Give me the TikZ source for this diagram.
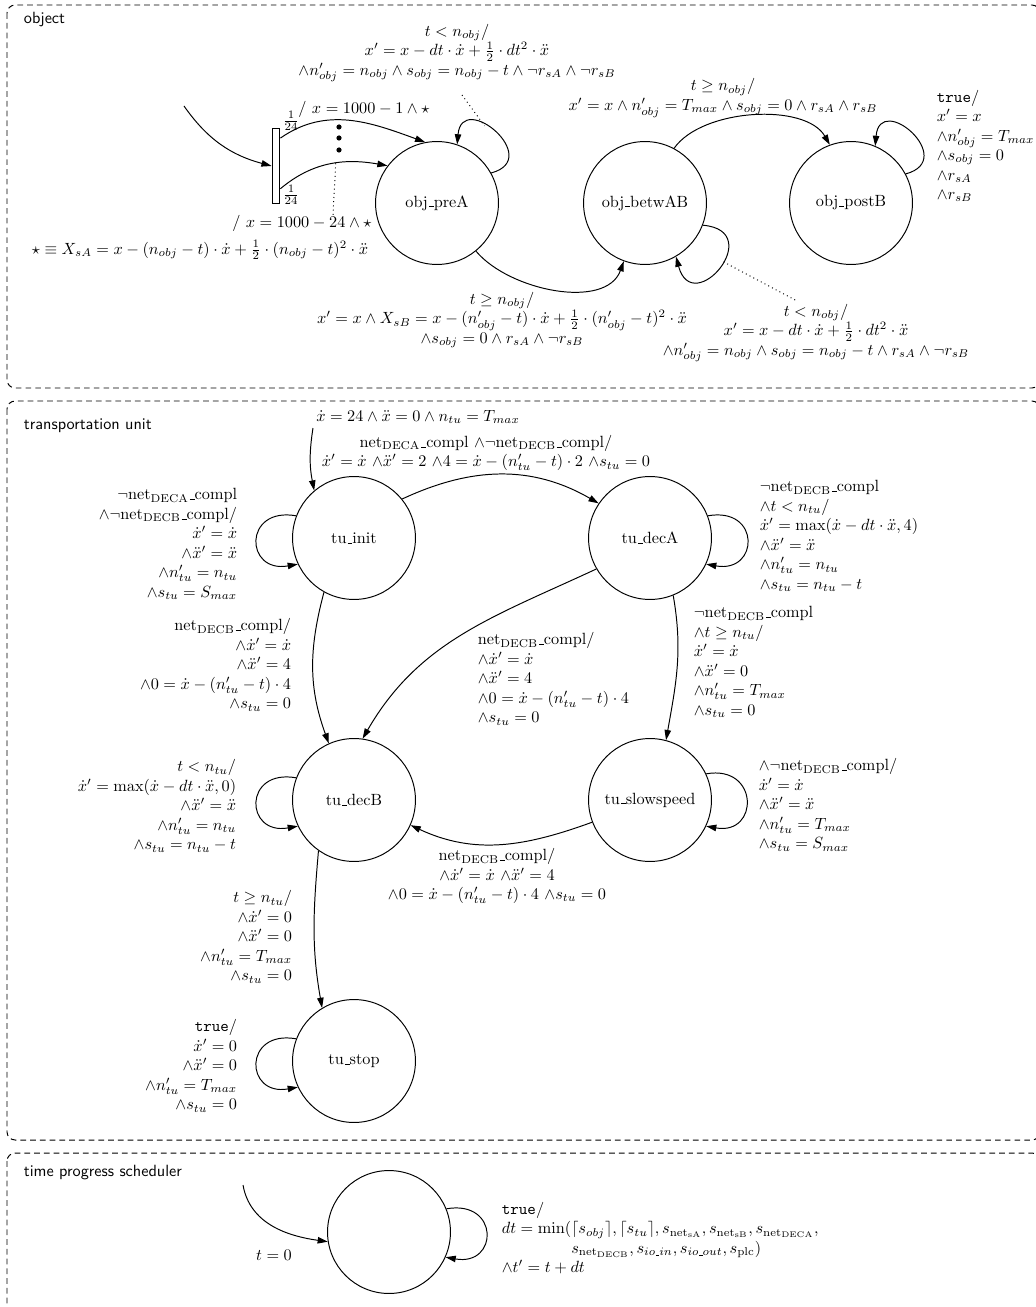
\documentclass[tikz,border=0pt]{standalone}
\usepackage{amsmath, amssymb}
\usetikzlibrary{arrows.meta, calc}
\newcommand{\ubar}{\leavevmode\kern.06em\vbox{\hrule width.3em}}
\newcommand{\netc}[1]{$\mathrm{net}_{\mathrm{#1}}$\ubar compl}

\begin{document}
\begin{tikzpicture}[x=0.02164cm, y=0.02164cm, line width=0.6pt,
  >={Triangle[length=2.2mm, width=1.4mm]},
  state/.style={circle, draw, minimum size=2.66cm, inner sep=0pt},
  region/.style={dash pattern=on 3.5pt off 2.5pt, rounded corners=5pt, line width=0.6pt},
  title/.style={anchor=west, font=\sffamily}]
  \useasboundingbox (0,0) rectangle (1035,-1307);

  %--- Object ---
  \draw[region] (7,-5) rectangle (1040,-388);
  \node[title] (objtitle) at (18,-20) {object};
  \node[state] (preA) at (437,-203) {obj\ubar preA};
  \node[state] (betwAB) at (645,-203) {obj\ubar betwAB};
  \node[state] (postB) at (851,-203) {obj\ubar postB};
  % fork bar with the 24 branches
  \node[draw, rectangle, minimum width=0.17cm, minimum height=1.64cm, inner sep=0pt] (fork) at (276,-166) {};
  \coordinate (objstart) at (184,-106);
  \draw[->] (objstart) to[out=-55, in=165] (fork.west);
  \draw[->] (fork.81) to[out=35, in=160] (preA.101);
  \draw[->] (fork.-79) to[out=40, in=170] coordinate[pos=0.55] (lowbr) (preA.143);
  \foreach \y in {127,138,150}
    \fill (339,-\y) circle (1.6pt);
  \node (p1) at (291,-121) {$\frac{1}{24}$};
  \node (p24) at (291,-195) {$\frac{1}{24}$};
  \node (first) at (364,-109) {$/\ x = 1000 - 1 \wedge \star$};
  \node (last) at (302,-223) {$/\ x = 1000 - 24 \wedge \star$};
  \coordinate (dlast) at (333,-215);
  \draw[dotted] (lowbr) -- (dlast);
  \node[anchor=west] (stardef) at (26,-250)
    {$\star \equiv X_{sA} = x - (n_{obj} - t)\cdot\dot{x} + \frac{1}{2}\cdot(n_{obj} - t)^2\cdot\ddot{x}$};
  % obj_preA
  \draw[->] (preA.29) .. controls +(15:55) and +(85:55) .. (preA.71) coordinate[pos=0.62] (preAtop);
  \node[align=center] (preAloop) at (457,-53)
    {$t < n_{obj}/$\\
     $x' = x - dt\cdot\dot{x} + \frac{1}{2}\cdot dt^2\cdot\ddot{x}$\\
     $\wedge n'_{obj} = n_{obj} \wedge s_{obj} = n_{obj} - t \wedge \neg r_{sA} \wedge \neg r_{sB}$};
  \coordinate (dpre) at (462,-95);
  \draw[dotted] (dpre) -- (preAtop);
  \draw[->] (preA.-51) to[out=-50, in=-110, looseness=0.9] (betwAB.-110);
  \node[align=center] (preAbetw) at (502,-320)
    {$t \geq n_{obj}/$\\
     $x' = x \wedge X_{sB} = x - (n'_{obj} - t)\cdot\dot{x} + \frac{1}{2}\cdot(n'_{obj} - t)^2\cdot\ddot{x}$\\
     $\wedge s_{obj} = 0 \wedge r_{sA} \wedge \neg r_{sB}$};
  % obj_betwAB
  \draw[->] (betwAB.-21) .. controls +(-5:65) and +(-75:65) .. (betwAB.-60) coordinate[pos=0.45] (betwbot);
  \node[align=center] (betwloop) at (816,-333)
    {$t < n_{obj}/$\\
     $x' = x - dt\cdot\dot{x} + \frac{1}{2}\cdot dt^2\cdot\ddot{x}$\\
     $\wedge n'_{obj} = n_{obj} \wedge s_{obj} = n_{obj} - t \wedge r_{sA} \wedge \neg r_{sB}$};
  \coordinate (dbetw) at (797,-301);
  \draw[dotted] (betwbot) -- (dbetw);
  \draw[->] (betwAB.62) to[out=55, in=120, looseness=0.8] (postB.110);
  \node[align=center] (betwpost) at (723,-98)
    {$t \geq n_{obj}/$\\
     $x' = x \wedge n'_{obj} = T_{max} \wedge s_{obj} = 0 \wedge r_{sA} \wedge r_{sB}$};
  % obj_postB
  \draw[->] (postB.28) .. controls +(15:55) and +(85:55) .. (postB.67);
  \node[align=left, anchor=north west] (postloop) at (931,-84)
    {\texttt{true}/\\ $x' = x$\\ $\wedge n'_{obj} = T_{max}$\\ $\wedge s_{obj} = 0$\\ $\wedge r_{sA}$\\ $\wedge r_{sB}$};

  %--- Transportation unit ---
  \draw[region] (7,-401) rectangle (1040,-1140);
  \node[title] (tutitle) at (18,-426) {transportation unit};
  \node[state] (tuinit) at (354,-538) {tu\ubar init};
  \node[state] (tudecA) at (650,-538) {tu\ubar decA};
  \node[state] (tudecB) at (354,-800) {tu\ubar decB};
  \node[state] (tuslow) at (650,-800) {tu\ubar slowspeed};
  \node[state] (tustop) at (354,-1061) {tu\ubar stop};
  % tu_init
  \coordinate (tustart) at (313,-428);
  \draw[->] (tustart) to[bend right=10] (tuinit.130);
  \node (tuinitial) at (418,-417) {$\dot{x} = 24 \wedge \ddot{x} = 0 \wedge n_{tu} = T_{max}$};
  \draw[->] (tuinit.159) .. controls +(170:54) and +(190:54) .. (tuinit.205);
  \node[align=right, anchor=east] (initloop) at (243,-544)
    {$\neg$\netc{DECA}\\ $\wedge\neg$\netc{DECB}/\\ $\dot{x}' = \dot{x}$\\
     $\wedge\ddot{x}' = \ddot{x}$\\ $\wedge n'_{tu} = n_{tu}$\\ $\wedge s_{tu} = S_{max}$};
  \draw[->] (tuinit.39) to[out=25, in=150] (tudecA.146);
  \node[align=center] (initdecA) at (486,-453)
    {\netc{DECA} $\wedge\neg$\netc{DECB}/\\
     $\dot{x}' = \dot{x}$ $\wedge\ddot{x}' = 2$ $\wedge 4 = \dot{x} - (n'_{tu} - t)\cdot 2$ $\wedge s_{tu} = 0$};
  \draw[->] (tuinit.241) to[out=-105, in=110] (tudecB.114);
  \node[align=right, anchor=east] (initdecB) at (297,-665)
    {\netc{DECB}/\\ $\wedge\dot{x}' = \dot{x}$\\ $\wedge\ddot{x}' = 4$\\
     $\wedge 0 = \dot{x} - (n'_{tu} - t)\cdot 4$\\ $\wedge s_{tu} = 0$};
  % tu_decA
  \draw[->] (tudecA.21) .. controls +(10:54) and +(-10:54) .. (tudecA.-25);
  \node[align=left, anchor=west] (decAloop) at (754,-536)
    {$\neg$\netc{DECB}\\ $\wedge t < n_{tu}/$\\ $\dot{x}' = \max(\dot{x} - dt\cdot\ddot{x}, 4)$\\
     $\wedge\ddot{x}' = \ddot{x}$\\ $\wedge n'_{tu} = n_{tu}$\\ $\wedge s_{tu} = n_{tu} - t$};
  \draw[->] (tudecA.210) to[out=205, in=60] (tudecB.82);
  \node[align=left, anchor=west] (decAdecB) at (472,-679)
    {\netc{DECB}/\\ $\wedge\dot{x}' = \dot{x}$\\ $\wedge\ddot{x}' = 4$\\
     $\wedge 0 = \dot{x} - (n'_{tu} - t)\cdot 4$\\ $\wedge s_{tu} = 0$};
  \draw[->] (tudecA.-68) to[out=-80, in=80] (tuslow.75);
  \node[align=left, anchor=west] (decAslow) at (688,-662)
    {$\neg$\netc{DECB}\\ $\wedge t \geq n_{tu}/$\\ $\dot{x}' = \dot{x}$\\
     $\wedge\ddot{x}' = 0$\\ $\wedge n'_{tu} = T_{max}$\\ $\wedge s_{tu} = 0$};
  % tu_slowspeed
  \draw[->] (tuslow.25) .. controls +(10:54) and +(-10:54) .. (tuslow.-25);
  \node[align=left, anchor=west] (slowloop) at (753,-805)
    {$\wedge\neg$\netc{DECB}/\\ $\dot{x}' = \dot{x}$\\ $\wedge\ddot{x}' = \ddot{x}$\\
     $\wedge n'_{tu} = T_{max}$\\ $\wedge s_{tu} = S_{max}$};
  \draw[->] (tuslow.201) to[out=200, in=-25] (tudecB.-24);
  \node[align=center] (slowdecB) at (497,-876)
    {\netc{DECB}/\\ $\wedge\dot{x}' = \dot{x}$ $\wedge\ddot{x}' = 4$\\
     $\wedge 0 = \dot{x} - (n'_{tu} - t)\cdot 4$ $\wedge s_{tu} = 0$};
  % tu_decB
  \draw[->] (tudecB.159) .. controls +(170:54) and +(190:54) .. (tudecB.205);
  \node[align=right, anchor=east] (decBloop) at (242,-806)
    {$t < n_{tu}/$\\ $\dot{x}' = \max(\dot{x} - dt\cdot\ddot{x}, 0)$\\ $\wedge\ddot{x}' = \ddot{x}$\\
     $\wedge n'_{tu} = n_{tu}$\\ $\wedge s_{tu} = n_{tu} - t$};
  \draw[->] (tudecB.235) to[out=-95, in=100] (tustop.121);
  \node[align=right, anchor=east] (decBstop) at (298,-937)
    {$t \geq n_{tu}/$\\ $\wedge\dot{x}' = 0$\\ $\wedge\ddot{x}' = 0$\\
     $\wedge n'_{tu} = T_{max}$\\ $\wedge s_{tu} = 0$};
  % tu_stop
  \draw[->] (tustop.159) .. controls +(170:54) and +(190:54) .. (tustop.205);
  \node[align=right, anchor=east] (stoploop) at (243,-1066)
    {\texttt{true}/\\ $\dot{x}' = 0$\\ $\wedge\ddot{x}' = 0$\\
     $\wedge n'_{tu} = T_{max}$\\ $\wedge s_{tu} = 0$};

  %--- Time progress scheduler ---
  \draw[region] (7,-1153) rectangle (1040,-1330);
  \node[title] (schedtitle) at (18,-1173) {time progress scheduler};
  \node[state] (sched) at (389,-1232) {};
  \coordinate (schedstart) at (243,-1185);
  \draw[->] (schedstart) to[out=-80, in=172] (sched.189);
  \node (schedinit) at (274,-1255) {$t = 0$};
  \draw[->] (sched.22) .. controls +(10:54) and +(-10:54) .. (sched.-24);
  \node[align=left, anchor=west] (schedloop) at (496,-1238)
    {\texttt{true}/\\
     $dt = \min(\lceil s_{obj}\rceil, \lceil s_{tu}\rceil, s_{\mathrm{net}_{\mathrm{sA}}}, s_{\mathrm{net}_{\mathrm{sB}}}, s_{\mathrm{net}_{\mathrm{DECA}}},$\\
     $\phantom{dt = \min(}s_{\mathrm{net}_{\mathrm{DECB}}}, s_{io\text{\ubar}in}, s_{io\text{\ubar}out}, s_{\mathrm{plc}})$\\
     $\wedge t' = t + dt$};
\end{tikzpicture}
\end{document}
